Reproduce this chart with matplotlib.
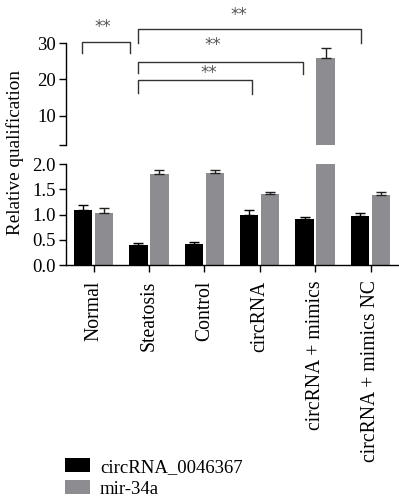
import matplotlib
matplotlib.use("Agg")
import matplotlib.pyplot as plt
from matplotlib.patches import Patch
import numpy as np

plt.rcParams['font.family'] = ['Liberation Serif', 'DejaVu Serif']

categories = ["Normal", "Steatosis", "Control", "circRNA", "circRNA + mimics", "circRNA + mimics NC"]
circ_vals = [1.09, 0.39, 0.41, 1.00, 0.92, 0.98]
circ_err = [0.10, 0.04, 0.04, 0.09, 0.04, 0.04]
mir_vals = [1.02, 1.80, 1.82, 1.40, 25.8, 1.39]
mir_err = [0.11, 0.09, 0.07, 0.05, 2.8, 0.05]
series_names = ["circRNA_0046367", "mir-34a"]

# significance brackets: (x_left, x_right, y_line, y_left_drop, y_right_drop, star_x, star_y)
brackets = [
    (-0.21, 0.66, 30.4, 27.2, 27.2, 0.17, 34.4),
    (0.80, 4.83, 33.8, 30.0, 30.0, 2.63, 37.7),
    (0.80, 3.78, 24.9, 21.7, 21.5, 2.16, 29.4),
    (0.80, 2.86, 19.8, 16.2, 16.0, 2.08, 21.8),
]

black = "#000000"
gray = "#8d8d91"
FS = 13.5

fig = plt.figure(figsize=(3.99, 5.0), dpi=100)
ax_top = fig.add_axes([0.165, 0.71, 0.833, 0.204])
ax_bot = fig.add_axes([0.165, 0.47, 0.833, 0.202])

x = np.arange(len(categories))
w = 0.33
off = 0.19
circ_vals_a = np.array(circ_vals)
mir_vals_a = np.array(mir_vals)
circ_err_a = np.array(circ_err)
mir_err_a = np.array(mir_err)

for ax, lo, hi in ((ax_top, 2.0, 30.0), (ax_bot, 0.0, 2.0)):
    ax.bar(x - off, circ_vals_a, w, color=black)
    ax.bar(x + off, mir_vals_a, w, color=gray)
    for xs, vals, errs, ec in ((x - off, circ_vals_a, circ_err_a, 'black'),
                               (x + off, mir_vals_a, mir_err_a, '#222222')):
        m = (vals + errs > lo) & (vals < hi)
        if m.any():
            ax.errorbar(xs[m], vals[m], yerr=[np.zeros(m.sum()), errs[m]], fmt='none',
                        ecolor=ec, elinewidth=1.0, capsize=3.5, capthick=1.0)
    ax.set_xlim(-0.5, 5.5)
    for s in ['top', 'right']:
        ax.spines[s].set_visible(False)
    ax.spines['left'].set_linewidth(1.0)
    ax.tick_params(axis='y', labelsize=FS, width=1.0, length=5, pad=2)

ax_top.set_ylim(2, 30)
ax_top.set_yticks([2, 10, 20, 30])
ax_top.set_yticklabels(['', '10', '20', '30'])
ax_top.spines['bottom'].set_visible(False)
ax_top.tick_params(axis='x', bottom=False, labelbottom=False)

ax_bot.set_ylim(0, 2.0)
ax_bot.set_yticks([0, 0.5, 1.0, 1.5, 2.0])
ax_bot.set_yticklabels(['0.0', '0.5', '1.0', '1.5', '2.0'])
ax_bot.spines['bottom'].set_linewidth(1.0)
ax_bot.set_xticks(x)
ax_bot.set_xticklabels(categories, rotation=90, fontsize=14.2, va='top')
ax_bot.tick_params(axis='x', length=5, width=1.0, pad=6)

for (xl, xr, yl, dl, dr, sx, sy) in brackets:
    ax_top.plot([xl, xl, xr, xr], [dl, yl, yl, dr], color='#333333', lw=1.0, clip_on=False)
    ax_top.text(sx, sy, "**", ha='center', va='center', fontsize=12, color='#555555',
                family='DejaVu Sans', clip_on=False)

fig.text(0.038, 0.695, "Relative qualification", rotation=90, ha='center', va='center', fontsize=13.8)

handles = [Patch(facecolor=black, edgecolor='none'), Patch(facecolor=gray, edgecolor='none')]
fig.legend(handles, series_names, loc='upper left', bbox_to_anchor=(0.162, 0.084),
           frameon=False, fontsize=FS, handlelength=1.33, handleheight=0.8,
           handletextpad=0.55, labelspacing=0.22, borderpad=0, borderaxespad=0)

fig.savefig("out.png", dpi=100)
